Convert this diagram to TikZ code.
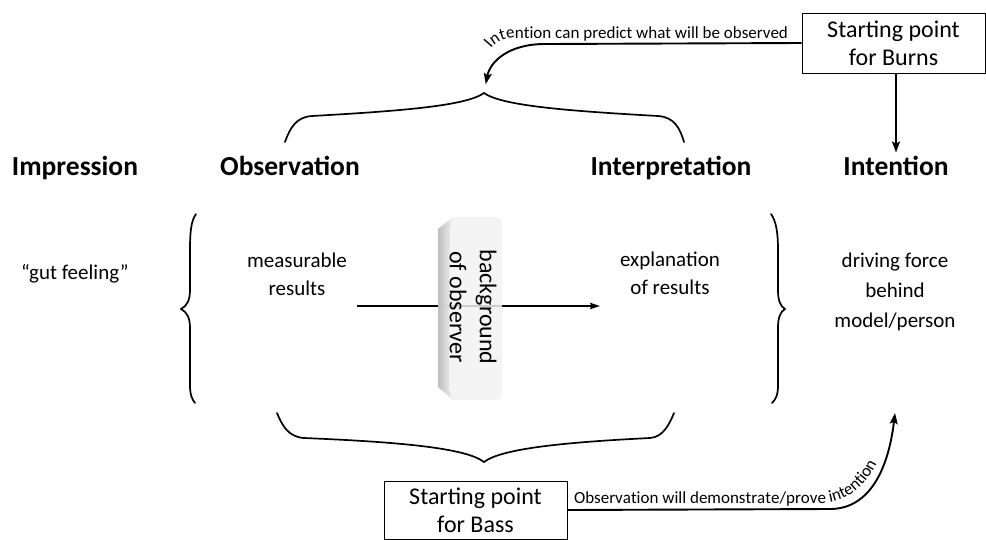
\documentclass[tikz,border=0pt]{standalone}
\usepackage{fontspec}
\setmainfont{Carlito}
\usetikzlibrary{arrows.meta,decorations.text,calc}

\begin{document}
\begin{tikzpicture}[x=1pt,y=-1pt,
  heading/.style={font=\fontsize{27.5}{30}\selectfont\bfseries, inner sep=0pt, anchor=base},
  body/.style={font=\fontsize{21}{28}\selectfont, align=center, inner sep=0pt},
  startbox/.style={draw, line width=0.8pt, font=\fontsize{24}{28}\selectfont,
    align=center, minimum width=183pt, inner sep=0pt},
  bracket/.style={line width=1.7pt, line cap=round},
  flow/.style={line width=1.9pt, -{Stealth[length=11pt,width=8pt,inset=2pt]}},
  thin flow/.style={line width=1.3pt, -{Stealth[length=10pt,width=6.5pt,inset=1.5pt]}},
  curvelabel/.style={decorate, decoration={text along path, text align=left,
    raise=0pt, text={#1}}}
]
\useasboundingbox (0,0) rectangle (986,539);

% --- headings ---------------------------------------------------------
\node[heading] (impression)     at (75,175)  {Impression};
\node[heading] (observation)    at (290,175) {Observation};
\node[heading] (interpretation) at (671,175) {Interpretation};
\node[heading] (intention)      at (896,175) {Intention};

% --- column contents --------------------------------------------------
\node[body] (gut)   at (75,274)  {``gut feeling''};
\node[body] (meas)  at (297,274) {measurable\\results};
\node[body] (expl)  at (670,273) {explanation\\of results};
\node[body, font=\fontsize{21}{30}\selectfont] (drive) at (895,292)
  {driving force\\behind\\model/person};

% --- starting point boxes ---------------------------------------------
\node[startbox, minimum height=60pt] (burns) at (893.5,43) {Starting point\\for Burns};
\node[startbox, minimum height=58pt] (bass)  at (475.5,510) {Starting point\\for Bass};

% --- braces -----------------------------------------------------------
\coordinate (topcusp) at (484,93);
\coordinate (botcusp) at (484,462);
\draw[bracket] (285,142) .. controls (290,128) and (296,117) .. (312,116)
  .. controls (400,111) and (466,106) .. (topcusp)
  .. controls (502,106) and (570,111) .. (658,116)
  .. controls (674,117) and (680,128) .. (684,142);
\draw[bracket] (277,413) .. controls (282,425) and (288,437) .. (304,438)
  .. controls (400,442) and (466,448) .. (botcusp)
  .. controls (502,448) and (570,442) .. (650,438)
  .. controls (663,437) and (669,425) .. (674,413);
% left brace
\draw[bracket] (196,214) .. controls (191,221) and (190,232) .. (190,250)
  -- (190,290) .. controls (190,300) and (187,306) .. (181,309)
  .. controls (187,312) and (190,318) .. (190,328)
  -- (190,385) .. controls (190,395) and (192,399) .. (195,403);
% right brace
\draw[bracket] (771,214) .. controls (776,221) and (778,232) .. (778,250)
  -- (778,290) .. controls (778,300) and (780,306) .. (785,309)
  .. controls (780,312) and (778,318) .. (778,328)
  -- (778,385) .. controls (778,395) and (776,399) .. (772,403);

% --- observation to interpretation ------------------------------------
\draw[thin flow] ($(meas.east)+(10,32)$) -- ($(expl.west)+(-20,33)$);

% --- background of observer panel -------------------------------------
\fill[gray!10, fill opacity=0.85]
  (453,217) -- (497,217) .. controls (501,217) and (502,220) .. (502,224)
  -- (502,393) .. controls (502,398) and (500,400) .. (496,400)
  -- (453,400) -- (438,387) -- (438,229) -- cycle;
\shade[left color=gray!55, right color=gray!10, fill opacity=0.9]
  (438,229) -- (453,217) -- (450,229) -- (449,388) -- (453,400) -- (438,387) -- cycle;
\node[body, font=\fontsize{24}{30}\selectfont, rotate=-90] (bg) at (473,307)
  {background\\of observer};

% --- Burns: intention drives the prediction ---------------------------
\draw[flow] (intention.north |- burns.south) -- ([yshift=3pt]intention.north);
\draw[flow, shorten >=9pt] (burns.west) -- (545,44)
  .. controls (508,44) and (490,62) .. (topcusp);
\path[curvelabel={|\fontsize{17}{19}\selectfont|Intention can predict what will be observed}]
  (491,49) .. controls (497,41) and (505,38) .. (518,38) -- (802,38);

% --- Bass: observation demonstrates intention -------------------------
\coordinate (tip) at (895,413);
\draw[flow] (bass.east) -- (830,509) .. controls (868,509) and (888,472) .. (tip);
\path[curvelabel={|\fontsize{17}{19}\selectfont|Observation will demonstrate/prove intention}]
  (574,503) -- (822,503) .. controls (850,501) and (868,486) .. (882,452);
\end{tikzpicture}
\end{document}
